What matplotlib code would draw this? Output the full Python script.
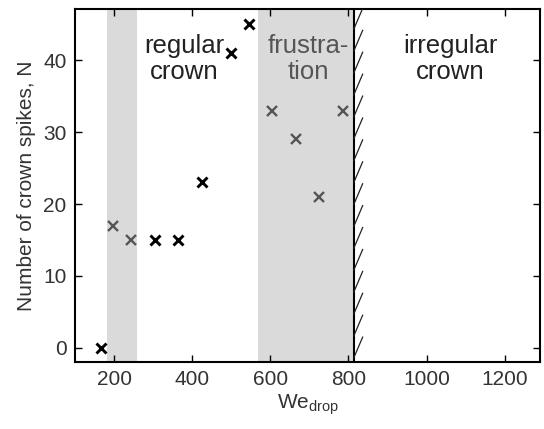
import numpy as np
import matplotlib.pyplot as plt

plt.rcParams['font.family'] = ['Liberation Sans', 'DejaVu Sans']

# datos: regimen de corona regular (negro) y frustracion (gris)
we_regular = [166, 304, 363, 424, 500, 546]
n_regular = [0, 15, 15, 23, 41, 45]
we_frustr = [197, 243, 605, 666, 725, 787]
n_frustr = [17, 15, 33, 29, 21, 33]

bandas = [(182, 259), (568, 813)]
we_limite = 813

fig = plt.figure(figsize=(5.44, 4.29), dpi=100)
ax = fig.add_axes([0.138, 0.156, 0.855, 0.824])

for a, b in bandas:
    ax.axvspan(a, b, color='#dadada', lw=0, zorder=0)

ax.axvline(we_limite, color='black', lw=1.5, zorder=3)

# rayado a la derecha de la linea limite
y0s = np.arange(-1.5, 47, 3.05)
for y0 in y0s:
    ax.plot([we_limite, we_limite + 24], [y0, y0 + 3.05], color='#222222', lw=0.9,
            zorder=3, solid_capstyle='butt')

ax.plot(we_regular, n_regular, 'x', color='black', ms=6.5, mew=2.1, zorder=4)
ax.plot(we_frustr, n_frustr, 'x', color='#555555', ms=6.5, mew=1.7, zorder=4)

txt = dict(ha='center', va='center', fontsize=18.5, linespacing=1.1)
ax.text(380, 40.2, 'regular\ncrown', color='#222222', **txt)
ax.text(697, 40.2, 'frustra-\ntion', color='#555555', **txt)
ax.text(1060, 40.2, 'irregular\ncrown', color='#222222', **txt)

ax.set_xlim(100, 1291)
ax.set_ylim(-2, 47.2)
ax.set_xticks([200, 400, 600, 800, 1000, 1200])
ax.set_yticks([0, 10, 20, 30, 40])
ax.tick_params(direction='in', top=True, right=True, length=5, width=1,
               labelsize=15, labelcolor='#333333', pad=6)
for s in ax.spines.values():
    s.set_linewidth(1.5)

ax.set_xlabel('We$_{\\mathregular{drop}}$', fontsize=15, color='#333333', labelpad=2)
ax.set_ylabel('Number of crown spikes, N', fontsize=15, color='#333333', labelpad=5)

plt.savefig('out.png', dpi=100)
